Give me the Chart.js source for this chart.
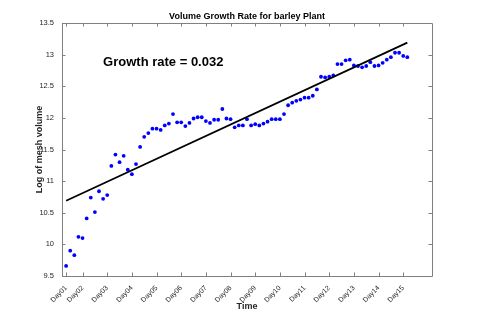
<!DOCTYPE html>
<html lang="en">
<head>
    <meta charset="UTF-8">
    <title>Volume Growth Rate</title>
    <script src="https://cdn.jsdelivr.net/npm/chart.js"></script>
    <style>
        html, body {
            margin: 0;
            padding: 0;
            background: #fff;
        }
        #growthChart {
            display: block;
        }
    </style>
</head>
<body>
    <canvas id="growthChart" width="478" height="312"></canvas>
    <script>
        // measurements (log of mesh volume), one per sample
        const volume = [
            9.66, 9.90, 9.83, 10.12, 10.10, 10.41, 10.74, 10.51, 10.84, 10.72,
            10.78, 11.24, 11.42, 11.30, 11.40, 11.18, 11.11, 11.27, 11.54, 11.70,
            11.76, 11.83, 11.83, 11.81, 11.88, 11.91, 12.06, 11.93, 11.93, 11.87,
            11.92, 11.99, 12.01, 12.01, 11.95, 11.92, 11.97, 11.97, 12.14, 11.99,
            11.98, 11.85, 11.88, 11.88, 11.98, 11.88, 11.90, 11.88, 11.91, 11.94,
            11.98, 11.98, 11.98, 12.06, 12.20, 12.24, 12.27, 12.29, 12.32, 12.32,
            12.35, 12.45, 12.65, 12.64, 12.65, 12.67, 12.85, 12.85, 12.91, 12.92,
            12.83, 12.82, 12.80, 12.82, 12.88, 12.82, 12.83, 12.87, 12.92, 12.96,
            13.03, 13.03, 12.98, 12.96
        ];

        // day labels and the sample index where each day starts
        const dayLabels = ['Day01', 'Day02', 'Day03', 'Day04', 'Day05', 'Day06', 'Day07', 'Day08',
                           'Day09', 'Day10', 'Day11', 'Day12', 'Day13', 'Day14', 'Day15'];
        const dayTicks = [0, 4, 10, 16, 22, 28, 34, 40, 46, 52, 58, 64, 70, 76, 82];

        const yTicks = [9.5, 10, 10.5, 11, 11.5, 12, 12.5, 13, 13.5];

        // fitted line end points
        const fitX = [0, 83];
        const fitY = [10.69, 13.19];

        const growthText = 'Growth rate = 0.032';
        const titleText = 'Volume Growth Rate for barley Plant';

        const axisColor = '#808080';
        const textColor = '#262626';

        const points = volume.map((v, i) => ({ x: i, y: v }));
        const fitLine = fitX.map((x, i) => ({ x: x, y: fitY[i] }));

        // MATLAB style box with inward ticks, title and annotation
        const boxPlugin = {
            id: 'boxPlugin',
            afterDraw(chart) {
                const ctx = chart.ctx;
                const a = chart.chartArea;
                const xs = chart.scales.x;
                const ys = chart.scales.y;
                ctx.save();
                ctx.strokeStyle = axisColor;
                ctx.lineWidth = 1;
                ctx.beginPath();
                ctx.rect(Math.round(a.left) + 0.5, Math.round(a.top) + 0.5,
                         Math.round(a.right - a.left), Math.round(a.bottom - a.top));
                const tl = 3.5;
                dayTicks.forEach(v => {
                    const px = Math.round(xs.getPixelForValue(v)) + 0.5;
                    ctx.moveTo(px, a.bottom);
                    ctx.lineTo(px, a.bottom - tl);
                    ctx.moveTo(px, a.top);
                    ctx.lineTo(px, a.top + tl);
                });
                yTicks.forEach(v => {
                    const py = Math.round(ys.getPixelForValue(v)) + 0.5;
                    ctx.moveTo(a.left, py);
                    ctx.lineTo(a.left + tl, py);
                    ctx.moveTo(a.right, py);
                    ctx.lineTo(a.right - tl, py);
                });
                ctx.stroke();

                ctx.fillStyle = '#000';
                ctx.font = 'bold 9px "Liberation Sans", Arial, sans-serif';
                ctx.textAlign = 'center';
                ctx.textBaseline = 'middle';
                ctx.fillText(titleText, (a.left + a.right) / 2, 17);

                ctx.font = 'bold 13px "Liberation Sans", Arial, sans-serif';
                ctx.textAlign = 'left';
                ctx.fillText(growthText, xs.getPixelForValue(9), ys.getPixelForValue(12.88));
                ctx.restore();
            }
        };

        const ctx = document.getElementById('growthChart').getContext('2d');
        const growthChart = new Chart(ctx, {
            type: 'scatter',
            data: {
                datasets: [{
                    label: 'Volume',
                    data: points,
                    backgroundColor: '#0000ff',
                    borderColor: '#0000ff',
                    borderWidth: 0,
                    pointRadius: 1.9,
                    order: 2
                }, {
                    label: 'Fit',
                    type: 'line',
                    data: fitLine,
                    borderColor: '#000',
                    borderWidth: 1.8,
                    pointRadius: 0,
                    fill: false,
                    order: 1
                }]
            },
            options: {
                responsive: false,
                animation: false,
                devicePixelRatio: 1,
                layout: {
                    padding: { left: 0, right: 46, top: 23, bottom: 0 }
                },
                plugins: {
                    legend: { display: false },
                    tooltip: { enabled: false }
                },
                scales: {
                    x: {
                        type: 'linear',
                        min: -1,
                        max: 89,
                        grid: { display: false, drawTicks: false },
                        border: { display: false },
                        afterBuildTicks: scale => {
                            scale.ticks = dayTicks.map(v => ({ value: v }));
                        },
                        afterFit: scale => { scale.height = 36; },
                        ticks: {
                            autoSkip: false,
                            minRotation: 45,
                            maxRotation: 45,
                            padding: 8,
                            color: textColor,
                            font: { family: '"Liberation Sans", Arial, sans-serif', size: 7 },
                            callback: value => dayLabels[dayTicks.indexOf(value)]
                        },
                        title: {
                            display: true,
                            text: 'Time',
                            color: textColor,
                            padding: { top: 0, bottom: 0 },
                            font: { family: '"Liberation Sans", Arial, sans-serif', size: 9, weight: 'bold' }
                        }
                    },
                    y: {
                        min: 9.5,
                        max: 13.5,
                        grid: { display: false, drawTicks: false },
                        border: { display: false },
                        afterBuildTicks: scale => {
                            scale.ticks = yTicks.map(v => ({ value: v }));
                        },
                        afterFit: scale => { scale.width = 62; },
                        ticks: {
                            padding: 8,
                            color: textColor,
                            font: { family: '"Liberation Sans", Arial, sans-serif', size: 7.5 },
                            callback: value => String(value)
                        },
                        title: {
                            display: true,
                            text: 'Log of mesh volume',
                            color: textColor,
                            padding: { top: 34, bottom: 0 },
                            font: { family: '"Liberation Sans", Arial, sans-serif', size: 9, weight: 'bold' }
                        }
                    }
                }
            },
            plugins: [boxPlugin]
        });
    </script>
</body>
</html>
